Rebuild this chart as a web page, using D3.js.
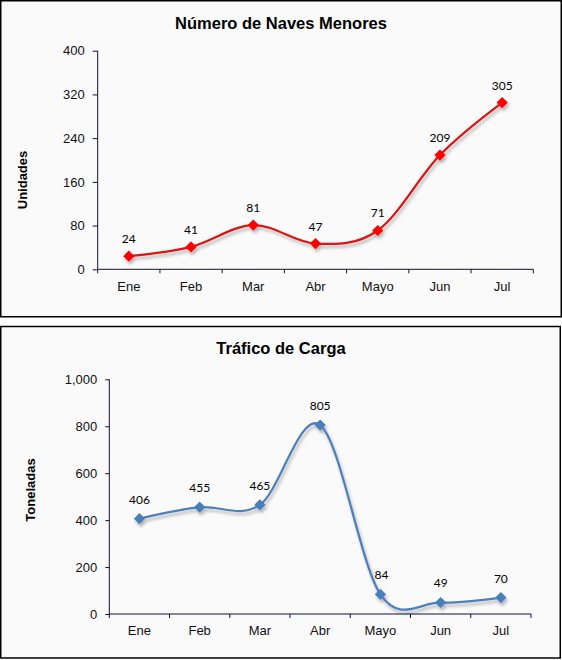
<!DOCTYPE html>
<html>
<head>
<meta charset="utf-8">
<script src="https://cdn.jsdelivr.net/npm/d3@7"></script>
<style>
  body { margin: 0; background: #fff; }
  svg { display: block; }
  .tick text { font-family: "Liberation Sans", Arial, sans-serif; font-size: 13px; fill: #111; }
  .ptitle { font-family: "Liberation Sans", Arial, sans-serif; font-size: 16.5px; font-weight: bold; fill: #000; }
  .ytitle { font-family: "Liberation Sans", Arial, sans-serif; font-size: 13px; font-weight: bold; fill: #000; }
  .dlabel { font-family: Lato, "Open Sans", sans-serif; font-size: 12px; fill: #000; }
</style>
</head>
<body>
<script>
// months shared by both charts
var meses = ["Ene", "Feb", "Mar", "Abr", "Mayo", "Jun", "Jul"];

// Número de Naves Menores (unidades)
var naves = [24, 41, 81, 47, 71, 209, 305];
var navesTicks = [0, 80, 160, 240, 320, 400];

// Tráfico de Carga (toneladas)
var carga = [406, 455, 465, 805, 84, 49, 70];
var cargaTicks = [0, 200, 400, 600, 800, 1000];

var svg = d3.select("body").append("svg")
  .attr("width", 562)
  .attr("height", 660);

var defs = svg.append("defs");
var f = defs.append("filter").attr("id", "shadow")
  .attr("x", "-20%").attr("y", "-20%").attr("width", "140%").attr("height", "160%");
f.append("feDropShadow")
  .attr("dx", 1.5).attr("dy", 3)
  .attr("stdDeviation", 1.6)
  .attr("flood-color", "#000")
  .attr("flood-opacity", 0.28);

var axisColor = "#10103a";

function drawPanel(cfg) {
  var g = svg.append("g");

  g.append("rect")
    .attr("x", cfg.box[0]).attr("y", cfg.box[1])
    .attr("width", cfg.box[2]).attr("height", cfg.box[3])
    .attr("fill", "#fafafa")
    .attr("stroke", "#000")
    .attr("stroke-width", 1.5);

  g.append("text")
    .attr("class", "ptitle")
    .attr("x", cfg.titleX).attr("y", cfg.titleY)
    .attr("text-anchor", "middle")
    .text(cfg.title);

  g.append("text")
    .attr("class", "ytitle")
    .attr("text-anchor", "middle")
    .attr("transform", "translate(" + cfg.yTitleX + "," + cfg.yTitleY + ") rotate(-90)")
    .text(cfg.yTitle);

  var x = d3.scaleBand()
    .domain(meses)
    .range([cfg.left, cfg.right]);

  var y = d3.scaleLinear()
    .domain([0, d3.max(cfg.ticks)])
    .range([cfg.bottom, cfg.top]);

  // y axis
  var yAxis = d3.axisLeft(y)
    .tickValues(cfg.ticks)
    .tickSize(cfg.yTick)
    .tickPadding(8)
    .tickFormat(d3.format(","));
  var ya = g.append("g")
    .attr("transform", "translate(" + cfg.left + ",0)")
    .call(yAxis);
  ya.select(".domain").remove();
  ya.append("line")
    .attr("x1", 0).attr("x2", 0)
    .attr("y1", cfg.top).attr("y2", cfg.bottom)
    .attr("stroke", axisColor);
  ya.selectAll(".tick line").attr("stroke", axisColor);

  // x axis: ticks between categories
  var xa = g.append("g")
    .attr("transform", "translate(0," + cfg.bottom + ")");
  xa.append("line")
    .attr("x1", cfg.left).attr("x2", cfg.right)
    .attr("stroke", axisColor);
  var edges = meses.map(function(m) { return x(m); }).concat([cfg.right]);
  xa.selectAll(".xt")
    .data(edges)
    .enter().append("line")
    .attr("x1", function(d) { return d; })
    .attr("x2", function(d) { return d; })
    .attr("y1", 0).attr("y2", 4)
    .attr("stroke", axisColor);
  xa.selectAll(".tick")
    .data(meses)
    .enter().append("g")
    .attr("class", "tick")
    .append("text")
    .attr("x", function(d) { return x(d) + x.bandwidth() / 2; })
    .attr("y", cfg.xLabelDy)
    .attr("text-anchor", "middle")
    .text(function(d) { return d; });

  var pts = cfg.values.map(function(v, i) {
    return [x(meses[i]) + x.bandwidth() / 2, y(v)];
  });

  var line = d3.line().curve(d3.curveCardinal.tension(0));

  var series = g.append("g").attr("filter", "url(#shadow)");
  series.append("path")
    .attr("d", line(pts))
    .attr("fill", "none")
    .attr("stroke", cfg.lineColor)
    .attr("stroke-width", 2.25);

  series.selectAll(".mk")
    .data(pts)
    .enter().append("path")
    .attr("d", d3.symbol().type(d3.symbolDiamond2).size(80))
    .attr("transform", function(d) { return "translate(" + d[0] + "," + d[1] + ")"; })
    .attr("fill", cfg.markColor);

  g.selectAll(".dlabel")
    .data(cfg.values)
    .enter().append("text")
    .attr("class", "dlabel")
    .attr("x", function(d, i) { return pts[i][0] + (cfg.labelDx[i] || 0); })
    .attr("y", function(d, i) { return pts[i][1] - cfg.labelDy; })
    .attr("text-anchor", "middle")
    .text(function(d) { return d; });
}

drawPanel({
  box: [0.75, 0.75, 560.5, 316],
  title: "Número de Naves Menores",
  titleX: 281, titleY: 29,
  yTitle: "Unidades",
  yTitleX: 27, yTitleY: 180,
  left: 97.7, right: 533.3, top: 50.7, bottom: 269.3,
  ticks: navesTicks,
  yTick: 5,
  xLabelDy: 21.5,
  values: naves,
  labelDx: [],
  labelDy: 13,
  lineColor: "#d81414",
  markColor: "#ff0000"
});

drawPanel({
  box: [0.75, 326.5, 559.5, 331.5],
  title: "Tráfico de Carga",
  titleX: 281, titleY: 354,
  yTitle: "Toneladas",
  yTitleX: 35, yTitleY: 490,
  left: 109.3, right: 531, top: 379.3, bottom: 614,
  ticks: cargaTicks,
  yTick: 4,
  xLabelDy: 20.5,
  values: carga,
  labelDx: [0, 0, 0, 0, 1, 0, 0],
  labelDy: 15,
  lineColor: "#4f7fba",
  markColor: "#4a7ebb"
});
</script>
</body>
</html>
